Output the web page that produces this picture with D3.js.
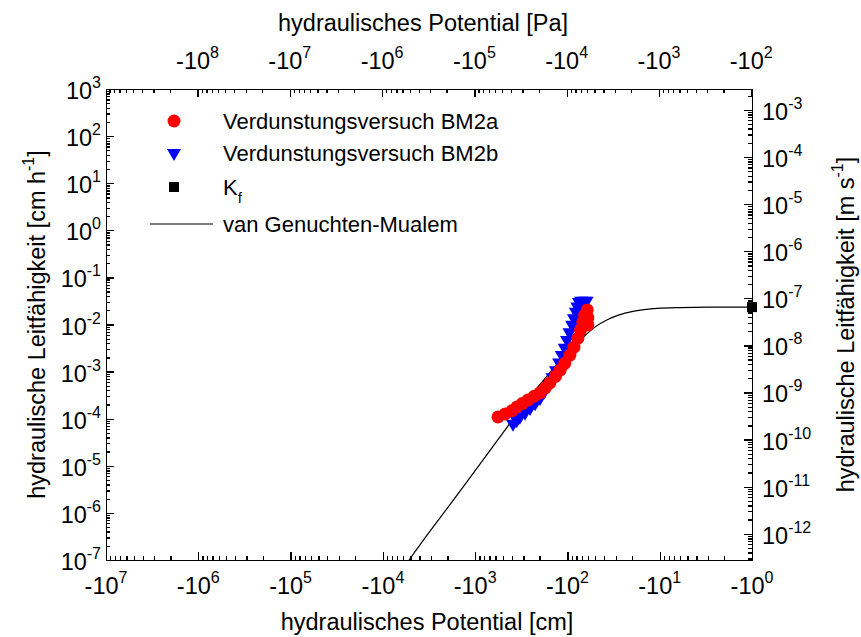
<!DOCTYPE html>
<html>
<head>
<meta charset="utf-8">
<script src="https://cdn.jsdelivr.net/npm/d3@7"></script>
<style>
  body { margin: 0; background: #fff; }
  text { font-family: "Liberation Sans", Arial, sans-serif; fill: #000; }
  .axis path, .axis line { stroke: #000; stroke-width: 1.3; shape-rendering: crispEdges; }
</style>
</head>
<body>
<div id="chart"></div>
<script>
// van Genuchten-Mualem fit, potential in cm (negative), K in cm/h
const curveH = [-5200, -3000, -2000, -1000, -500, -300, -200, -150, -100, -70, -50, -37, -28, -19.5, -14, -10.7, -6, -3, -1];
const curveK = [1e-7, 4.4e-7, 1.26e-6, 7.9e-6, 5.0e-5, 1.9e-4, 5.2e-4, 1.02e-3, 2.5e-3, 5.0e-3, 8.9e-3, 1.26e-2, 1.58e-2, 1.9e-2, 2.09e-2, 2.19e-2, 2.29e-2, 2.34e-2, 2.34e-2];

// Verdunstungsversuch BM2a (red circles)
const bm2aH = [-565, -474, -398, -352, -309, -267, -229, -198, -174, -155, -135, -120, -107, -94, -85, -77, -72, -68, -65, -61, -60, -60];
const bm2aK = [1.09e-4, 1.26e-4, 1.48e-4, 1.78e-4, 2.09e-4, 2.51e-4, 3.0e-4, 3.55e-4, 4.5e-4, 5.75e-4, 7.9e-4, 1.07e-3, 1.5e-3, 2.24e-3, 3.3e-3, 5.1e-3, 7.6e-3, 1.12e-2, 1.58e-2, 2.04e-2, 1.38e-2, 9.8e-3];

// Verdunstungsversuch BM2b (blue triangles)
const bm2bH = [-389, -355, -327, -288, -254, -224, -198, -178, -158, -145, -133, -123, -115, -107, -101, -95, -89, -85, -81, -78, -75, -71, -66, -62];
const bm2bK = [7.8e-5, 9.3e-5, 1.1e-4, 1.35e-4, 1.7e-4, 2.14e-4, 2.75e-4, 3.8e-4, 5.2e-4, 7.6e-4, 1.07e-3, 1.55e-3, 2.24e-3, 3.2e-3, 4.7e-3, 6.8e-3, 9.8e-3, 1.35e-2, 1.86e-2, 2.4e-2, 3.0e-2, 3.2e-2, 3.2e-2, 3.2e-2];

// saturated conductivity Kf
const kfH = [-1];
const kfK = [2.34e-2];

const xExp = [7, 6, 5, 4, 3, 2, 1, 0];          // bottom: -10^n cm
const xTopExp = [8, 7, 6, 5, 4, 3, 2];          // top: -10^n Pa
const yExp = [3, 2, 1, 0, -1, -2, -3, -4, -5, -6, -7];      // left: cm/h
const yRightExp = [-3, -4, -5, -6, -7, -8, -9, -10, -11, -12]; // right: m/s

const legendLabels = ["Verdunstungsversuch BM2a", "Verdunstungsversuch BM2b", "K", "van Genuchten-Mualem"];

const PA_PER_CM = 98.1;
const MS_PER_CMH = 0.01 / 3600;

const W = 861, H = 637;
const margin = { top: 89, right: 109, bottom: 77, left: 106 };
const width = W - margin.left - margin.right;
const height = H - margin.top - margin.bottom;

const svg = d3.select("#chart").append("svg")
    .attr("width", W)
    .attr("height", H);

const g = svg.append("g")
    .attr("transform", "translate(" + margin.left + "," + margin.top + ")");

// SCALES (log on the magnitude of the negative potential)
const x = d3.scaleLog().domain([1e7, 1]).range([0, width]);
const xTop = d3.scaleLog().domain([1e7 * PA_PER_CM, PA_PER_CM]).range([0, width]);
const y = d3.scaleLog().domain([1e-7, 1e3]).range([height, 0]);
const yRight = d3.scaleLog().domain([1e-7 * MS_PER_CMH, 1e3 * MS_PER_CMH]).range([height, 0]);

function minors(lo, hi) {
    const out = [];
    for (let e = lo; e < hi; e++) {
        for (let k = 2; k <= 9; k++) out.push(k * Math.pow(10, e));
    }
    return out;
}

// label with superscript exponent
function supText(sel, base, exp) {
    sel.append("tspan").text(base);
    sel.append("tspan").attr("dy", -11).attr("font-size", 16).text(exp);
}

// AXES - ticks pointing inward
function drawAxis(axisGen, scale, transform, majors, minorVals) {
    g.append("g").attr("class", "axis")
        .attr("transform", transform)
        .call(axisGen(scale).tickValues(minorVals).tickSize(-4).tickSizeOuter(0).tickFormat(""));
    g.append("g").attr("class", "axis")
        .attr("transform", transform)
        .call(axisGen(scale).tickValues(majors).tickSize(-8).tickSizeOuter(0).tickFormat(""));
}

drawAxis(d3.axisBottom, x, "translate(0," + height + ")", xExp.map(e => Math.pow(10, e)), minors(0, 7));
drawAxis(d3.axisTop, xTop, "translate(0,0)", xTopExp.map(e => Math.pow(10, e)), minors(2, 9).filter(v => v <= 1e7 * PA_PER_CM && v >= PA_PER_CM));
drawAxis(d3.axisLeft, y, "translate(0,0)", yExp.map(e => Math.pow(10, e)), minors(-7, 3));
drawAxis(d3.axisRight, yRight, "translate(" + width + ",0)", yRightExp.map(e => Math.pow(10, e)), minors(-13, -2).filter(v => v >= 1e-7 * MS_PER_CMH && v <= 1e3 * MS_PER_CMH));

// tick labels
xExp.forEach(e => {
    const t = g.append("text").attr("x", x(Math.pow(10, e))).attr("y", height + 34)
        .attr("text-anchor", "middle").attr("font-size", 23.5);
    supText(t, "-10", e);
});
xTopExp.forEach(e => {
    const t = g.append("text").attr("x", xTop(Math.pow(10, e))).attr("y", -20)
        .attr("text-anchor", "middle").attr("font-size", 23.5);
    supText(t, "-10", e);
});
yExp.forEach(e => {
    const t = g.append("text").attr("x", -5).attr("y", y(Math.pow(10, e)) + 10)
        .attr("text-anchor", "end").attr("font-size", 23.5);
    supText(t, "10", e);
});
yRightExp.forEach(e => {
    const t = g.append("text").attr("x", width + 10).attr("y", yRight(Math.pow(10, e)) + 10)
        .attr("text-anchor", "start").attr("font-size", 23.5);
    supText(t, "10", e);
});

// axis titles
svg.append("text").attr("x", margin.left + width / 2 - 2).attr("y", 630)
    .attr("text-anchor", "middle").attr("font-size", 23.5).text("hydraulisches Potential [cm]");
svg.append("text").attr("x", margin.left + width / 2 - 6).attr("y", 31)
    .attr("text-anchor", "middle").attr("font-size", 23.5).text("hydraulisches Potential [Pa]");

const lt = svg.append("text").attr("font-size", 23.5).attr("text-anchor", "middle")
    .attr("transform", "translate(45," + (margin.top + height / 2) + ") rotate(-90)");
lt.append("tspan").text("hydraulische Leitfähigkeit [cm h");
lt.append("tspan").attr("dy", -11).attr("font-size", 16).text("-1");
lt.append("tspan").attr("dy", 11).text("]");

const rt = svg.append("text").attr("font-size", 23.5).attr("text-anchor", "middle")
    .attr("transform", "translate(854," + (margin.top + height / 2) + ") rotate(-90)");
rt.append("tspan").text("hydraulische Leitfähigkeit [m s");
rt.append("tspan").attr("dy", -11).attr("font-size", 16).text("-1");
rt.append("tspan").attr("dy", 11).text("]");

// clip to plot area
g.append("clipPath").attr("id", "plotclip")
    .append("rect").attr("width", width).attr("height", height);
const plot = g.append("g").attr("clip-path", "url(#plotclip)");

// van Genuchten-Mualem line
const line = d3.line()
    .x((d, i) => x(-curveH[i]))
    .y((d) => y(d))
    .curve(d3.curveMonotoneX);

plot.append("path")
    .attr("d", line(curveK))
    .attr("fill", "none")
    .attr("stroke", "#000")
    .attr("stroke-width", 1.2);

// blue triangles (drawn first, red lies on top)
const tri = d3.symbol().type(d3.symbolTriangle).size(85);
g.selectAll(".bm2b").data(bm2bK).enter()
    .append("path").attr("class", "bm2b")
    .attr("d", tri)
    .attr("transform", (d, i) => "translate(" + x(-bm2bH[i]) + "," + y(d) + ") rotate(180)")
    .attr("fill", "#0000ff");

g.selectAll(".bm2a").data(bm2aK).enter()
    .append("circle").attr("class", "bm2a")
    .attr("cx", (d, i) => x(-bm2aH[i]))
    .attr("cy", (d) => y(d))
    .attr("r", 6.5)
    .attr("fill", "#ff0000");

g.selectAll(".kf").data(kfK).enter()
    .append("rect").attr("class", "kf")
    .attr("x", (d, i) => x(-kfH[i]) - 5)
    .attr("y", (d) => y(d) - 5)
    .attr("width", 10).attr("height", 10)
    .attr("fill", "#000");

// LEGEND
const legend = svg.append("g").attr("transform", "translate(174,0)");
const rowY = [121, 153, 187, 224];
legend.append("circle").attr("cx", 0).attr("cy", rowY[0]).attr("r", 6.5).attr("fill", "#ff0000");
legend.append("path").attr("d", tri).attr("transform", "translate(0," + rowY[1] + ") rotate(180)").attr("fill", "#0000ff");
legend.append("rect").attr("x", -5).attr("y", rowY[2] - 5).attr("width", 10).attr("height", 10).attr("fill", "#000");
legend.append("line").attr("x1", -24).attr("x2", 39).attr("y1", rowY[3]).attr("y2", rowY[3])
    .attr("stroke", "#000").attr("stroke-width", 1.2);

legendLabels.forEach((s, i) => {
    const t = legend.append("text").attr("x", 49).attr("y", rowY[i] + 8).attr("font-size", 22);
    t.append("tspan").text(s);
    if (i === 2) t.append("tspan").attr("dy", 8).attr("font-size", 15).text("f");
});
</script>
</body>
</html>
